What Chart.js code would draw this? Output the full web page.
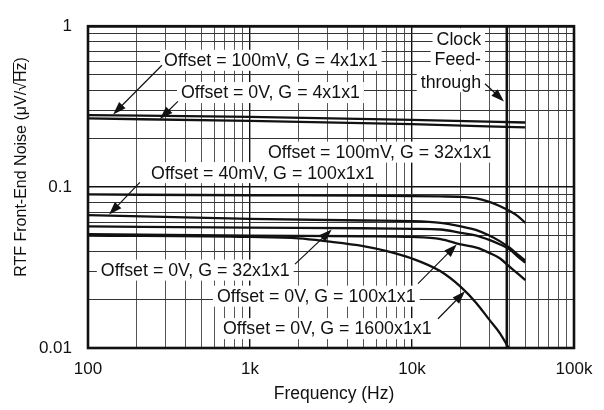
<!DOCTYPE html>
<html>
<head>
<meta charset="utf-8">
<script src="https://cdn.jsdelivr.net/npm/chart.js@4.4.1/dist/chart.umd.min.js"></script>
<style>
  html, body { margin: 0; padding: 0; background: #fff; }
</style>
</head>
<body>
<canvas id="noise" width="604" height="410"></canvas>
<script>
// frequency points (Hz) and noise values (uV/rtHz)
const f4x = [100, 1000, 10000, 50000];
const off100G4 = [0.280, 0.273, 0.262, 0.252];
const off0G4 = [0.267, 0.258, 0.246, 0.235];

const fRoll = [100, 1000, 5000, 10000, 15000, 20000, 25000, 30000, 35000, 40000, 45000, 50000];
const off100G32 = [0.090, 0.089, 0.0885, 0.088, 0.0875, 0.087, 0.085, 0.081, 0.076, 0.071, 0.066, 0.060];
const off40G100 = [0.067, 0.0635, 0.062, 0.0615, 0.060, 0.057, 0.054, 0.050, 0.046, 0.042, 0.038, 0.035];
const off0G32 = [0.057, 0.056, 0.0555, 0.055, 0.0545, 0.052, 0.050, 0.047, 0.044, 0.041, 0.037, 0.034];
const off0G100 = [0.051, 0.050, 0.0495, 0.049, 0.0475, 0.044, 0.042, 0.039, 0.036, 0.032, 0.029, 0.0264];

const f1600 = [100, 1000, 2000, 3000, 5000, 7000, 10000, 15000, 20000, 25000, 30000, 35000, 39500];
const off0G1600 = [0.050, 0.049, 0.048, 0.046, 0.043, 0.040, 0.036, 0.030, 0.024, 0.019, 0.015, 0.0123, 0.010];

const clockFreq = 38500;

const xTickLabels = { 100: '100', 1000: '1k', 10000: '10k', 100000: '100k' };
const yTickLabels = { 0.01: '0.01', 0.1: '0.1', 1: '1' };

// callouts: text anchor and arrow in data coordinates
const callouts = [
  { text: 'Offset = 100mV, G = 4x1x1', x: 295, y: 0.614, from: [286, 0.572], to: [143, 0.283] },
  { text: 'Offset = 0V, G = 4x1x1', x: 375, y: 0.387, from: [359, 0.341], to: [278, 0.265] },
  { text: 'Offset = 100mV, G = 32x1x1', x: 1292, y: 0.165 },
  { text: 'Offset = 40mV, G = 100x1x1', x: 245, y: 0.123, from: [209, 0.107], to: [135, 0.0675] },
  { text: 'Offset = 0V, G = 32x1x1', x: 120, y: 0.0305, from: [1896, 0.0332], to: [3194, 0.0545] },
  { text: 'Offset = 0V, G = 100x1x1', x: 625, y: 0.0210, from: [10890, 0.0251], to: [18880, 0.0440] },
  { text: 'Offset = 0V, G = 1600x1x1', x: 681, y: 0.0132, from: [14470, 0.0152], to: [21240, 0.0225] }
];
const clockLines = ['Clock', 'Feed-', 'through'];
const clockLabel = { x: 26680, ys: [0.834, 0.622, 0.452], from: [28220, 0.439], to: [36980, 0.341] };

const FONT = '"Liberation Sans", Arial, Helvetica, sans-serif';

function pts(fs, vs) {
  return fs.map((f, i) => ({ x: f, y: vs[i] }));
}

function logGrid(lo, hi) {
  const out = [];
  for (let d = lo; d < hi; d *= 10) {
    for (let m = 1; m < 10; m++) out.push({ value: d * m });
  }
  out.push({ value: hi });
  return out;
}

function isDecade(v) {
  const l = Math.log10(v);
  return Math.abs(l - Math.round(l)) < 1e-9;
}

function curve(data) {
  return {
    data: data,
    borderColor: '#111',
    borderWidth: 2.3,
    pointRadius: 0,
    fill: false,
    cubicInterpolationMode: 'monotone'
  };
}

function arrow(ctx, x1, y1, x2, y2) {
  const a = Math.atan2(y2 - y1, x2 - x1);
  const len = 13, w = 4.5;
  ctx.beginPath();
  ctx.moveTo(x1, y1);
  ctx.lineTo(x2 - Math.cos(a) * len * 0.8, y2 - Math.sin(a) * len * 0.8);
  ctx.lineWidth = 1.2;
  ctx.strokeStyle = '#111';
  ctx.stroke();
  ctx.beginPath();
  ctx.moveTo(x2, y2);
  ctx.lineTo(x2 - Math.cos(a) * len + Math.sin(a) * w, y2 - Math.sin(a) * len - Math.cos(a) * w);
  ctx.lineTo(x2 - Math.cos(a) * len - Math.sin(a) * w, y2 - Math.sin(a) * len + Math.cos(a) * w);
  ctx.closePath();
  ctx.fillStyle = '#111';
  ctx.fill();
}

const labelBoxes = {
  id: 'labelBoxes',
  beforeDatasetsDraw(chart) {
    const { ctx, scales: { x, y } } = chart;
    ctx.save();
    ctx.font = '17.8px ' + FONT;
    ctx.textBaseline = 'middle';
    callouts.forEach(c => {
      const px = x.getPixelForValue(c.x), py = y.getPixelForValue(c.y);
      const w = ctx.measureText(c.text).width;
      ctx.fillStyle = '#fff';
      ctx.fillRect(px - 4, py - 10.5, w + 8, 21);
      ctx.fillStyle = '#111';
      ctx.textAlign = 'left';
      ctx.fillText(c.text, px, py + 1);
    });
    const rx = x.getPixelForValue(clockLabel.x);
    clockLines.forEach((t, i) => {
      const py = y.getPixelForValue(clockLabel.ys[i]);
      const w = ctx.measureText(t).width;
      ctx.fillStyle = '#fff';
      ctx.fillRect(rx - w - 4, py - 10.5, w + 8, 21);
      ctx.fillStyle = '#111';
      ctx.textAlign = 'right';
      ctx.fillText(t, rx, py + 1);
    });
    ctx.restore();
  },
  afterDatasetsDraw(chart) {
    const { ctx, chartArea: a, scales: { x, y } } = chart;
    ctx.save();
    callouts.forEach(c => {
      if (!c.from) return;
      arrow(ctx, x.getPixelForValue(c.from[0]), y.getPixelForValue(c.from[1]),
        x.getPixelForValue(c.to[0]), y.getPixelForValue(c.to[1]));
    });
    arrow(ctx, x.getPixelForValue(clockLabel.from[0]), y.getPixelForValue(clockLabel.from[1]),
      x.getPixelForValue(clockLabel.to[0]), y.getPixelForValue(clockLabel.to[1]));

    // plot frame
    ctx.lineWidth = 2.6;
    ctx.strokeStyle = '#111';
    ctx.strokeRect(a.left, a.top, a.right - a.left, a.bottom - a.top);

    // axis titles
    ctx.fillStyle = '#111';
    ctx.font = '17.5px ' + FONT;
    ctx.textAlign = 'center';
    ctx.textBaseline = 'middle';
    ctx.fillText('Frequency (Hz)', (a.left + a.right) / 2 + 3, 394);

    ctx.font = '16px ' + FONT;
    const head = 'RTF Front-End Noise (\u03BCV/\u221A';
    const hz = 'Hz';
    const tail = ')';
    const wHead = ctx.measureText(head).width;
    const wHz = ctx.measureText(hz).width;
    const wTail = ctx.measureText(tail).width;
    const total = wHead + wHz + wTail;
    ctx.translate(22, 167);
    ctx.rotate(-Math.PI / 2);
    ctx.textAlign = 'left';
    let sx = -total / 2;
    ctx.fillText(head, sx, 0);
    ctx.fillText(hz, sx + wHead, 0);
    ctx.fillText(tail, sx + wHead + wHz, 0);
    ctx.beginPath();
    ctx.lineWidth = 1;
    ctx.moveTo(sx + wHead - 1, -8.5);
    ctx.lineTo(sx + wHead + wHz, -8.5);
    ctx.stroke();
    ctx.restore();
  }
};

new Chart(document.getElementById('noise'), {
  type: 'line',
  data: {
    datasets: [
      curve(pts(f4x, off100G4)),
      curve(pts(f4x, off0G4)),
      curve(pts(fRoll, off100G32)),
      curve(pts(fRoll, off40G100)),
      curve(pts(fRoll, off0G32)),
      curve(pts(fRoll, off0G100)),
      curve(pts(f1600, off0G1600)),
      {
        data: [{ x: clockFreq, y: 0.01 }, { x: clockFreq, y: 1 }],
        borderColor: '#111',
        borderWidth: 2.6,
        pointRadius: 0,
        fill: false
      }
    ]
  },
  options: {
    responsive: false,
    animation: false,
    events: [],
    layout: { padding: { top: 18, right: 30, left: 0, bottom: 0 } },
    plugins: { legend: { display: false }, tooltip: { enabled: false } },
    scales: {
      x: {
        type: 'logarithmic',
        min: 100,
        max: 100000,
        afterBuildTicks: s => { s.ticks = logGrid(100, 100000); },
        afterFit: s => { s.height = 62; },
        border: { display: false },
        grid: {
          drawTicks: false,
          color: c => isDecade(c.tick.value) ? '#111' : '#555',
          lineWidth: c => isDecade(c.tick.value) ? 1.4 : 1
        },
        ticks: {
          autoSkip: false,
          maxRotation: 0,
          padding: 11,
          color: '#111',
          font: { family: FONT, size: 17 },
          callback: v => xTickLabels[v] || ''
        }
      },
      y: {
        type: 'logarithmic',
        min: 0.01,
        max: 1,
        afterBuildTicks: s => { s.ticks = logGrid(0.01, 1); },
        afterFit: s => { s.width = 88; },
        border: { display: false },
        grid: {
          drawTicks: false,
          color: c => isDecade(c.tick.value) ? '#111' : '#333',
          lineWidth: c => isDecade(c.tick.value) ? 1.4 : 1
        },
        ticks: {
          autoSkip: false,
          padding: 16,
          color: '#111',
          font: { family: FONT, size: 17 },
          callback: v => {
            for (const k in yTickLabels) {
              if (Math.abs(v - Number(k)) < 1e-9) return yTickLabels[k];
            }
            return '';
          }
        }
      }
    }
  },
  plugins: [labelBoxes]
});
</script>
</body>
</html>
